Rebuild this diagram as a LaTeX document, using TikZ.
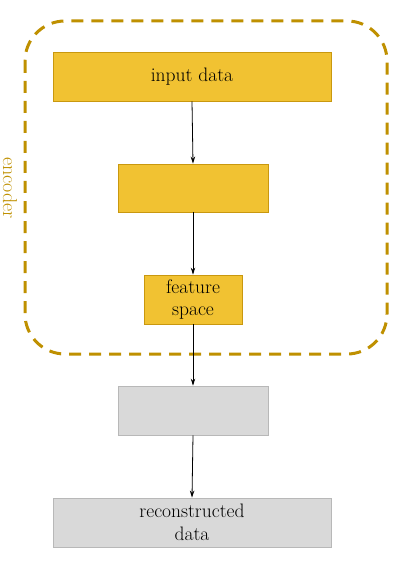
\documentclass[tikz,border=0pt]{standalone}
\usetikzlibrary{arrows.meta}
\definecolor{ylw}{HTML}{F1C232}
\definecolor{ylwb}{HTML}{C9980F}
\definecolor{gold}{HTML}{BF9000}
\definecolor{gry}{HTML}{D9D9D9}
\definecolor{gryb}{HTML}{B8B8B8}
\begin{document}
\begin{tikzpicture}[x=1pt,y=-1pt,
  txt/.style={font=\fontsize{19.5}{22.5}\selectfont, align=center, inner sep=0pt},
  ybox/.style={txt, draw=ylwb, fill=ylw, line width=0.8pt},
  gbox/.style={txt, draw=gryb, fill=gry, line width=0.8pt},
  conn/.style={line width=0.8pt, -{Stealth[length=7pt,width=4.5pt]}},
  grp/.style={draw=gold, line width=3pt, dash pattern=on 12pt off 8pt, rounded corners=40pt}
]
\useasboundingbox (0,0) rectangle (412,561);
\draw[grp] (25,21) rectangle (387,354);
\node[gold, font=\fontsize{20}{22}\selectfont, rotate=-90] (enc) at (10,188) {encoder};
\node[ybox, minimum width=278pt, minimum height=49pt] (a) at (192,76.5) {input data};
\node[ybox, minimum width=150pt, minimum height=48pt] (b) at (193,188) {};
\node[ybox, minimum width=98pt, minimum height=49pt] (c) at (193,299.5) {feature\\space};
\node[gbox, minimum width=150pt, minimum height=49pt] (d) at (193,410.5) {};
\node[gbox, minimum width=278pt, minimum height=49pt] (e) at (192,522.5) {reconstructed\\data};
\draw[conn] (a.south) -- (b.north);
\draw[conn] (b.south) -- (c.north);
\draw[conn] (c.south) -- (d.north);
\draw[conn] (d.south) -- (e.north);
\end{tikzpicture}
\end{document}
